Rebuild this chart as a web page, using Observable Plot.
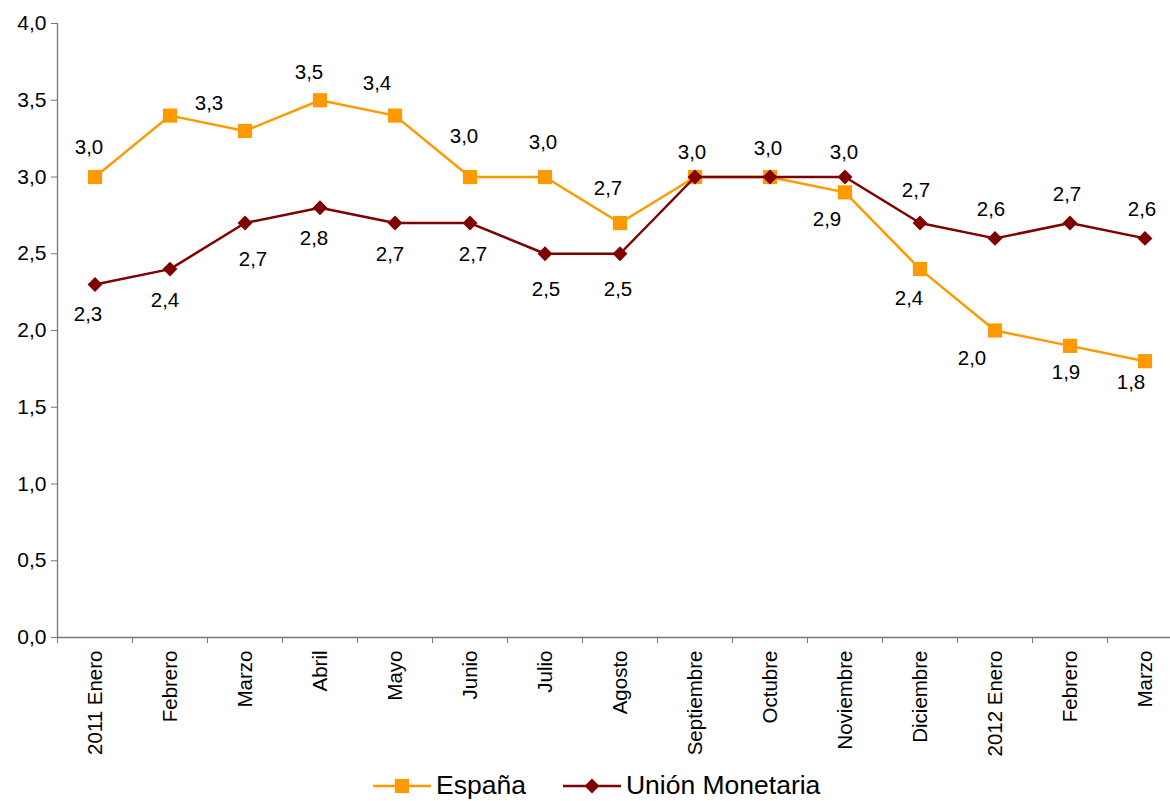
<!DOCTYPE html>
<html>
<head>
<meta charset="utf-8">
<script src="https://cdn.jsdelivr.net/npm/d3@7"></script>
<script src="https://cdn.jsdelivr.net/npm/@observablehq/plot@0.6"></script>
<style>
  html, body { margin: 0; padding: 0; background: #fff; overflow: hidden; }
  #wrap { position: relative; width: 1170px; height: 801px; font-family: "Liberation Sans", Arial, sans-serif; }
  #legend { position: absolute; left: 373px; top: 772px; height: 27px; display: flex; align-items: center; font-size: 26.5px; line-height: 27px; color: #000; }
  #legend .item { display: flex; align-items: center; height: 27px; }
  #legend svg { display: block; }
</style>
</head>
<body>
<div id="wrap"><div id="chart"></div><div id="legend"></div></div>
<script>
// ---- Data ----
const months = ["2011 Enero", "Febrero", "Marzo", "Abril", "Mayo", "Junio", "Julio", "Agosto",
  "Septiembre", "Octubre", "Noviembre", "Diciembre", "2012 Enero", "Febrero", "Marzo"];
const espana = [3.0, 3.4, 3.3, 3.5, 3.4, 3.0, 3.0, 2.7, 3.0, 3.0, 2.9, 2.4, 2.0, 1.9, 1.8];
const union  = [2.3, 2.4, 2.7, 2.8, 2.7, 2.7, 2.5, 2.5, 3.0, 3.0, 3.0, 2.7, 2.6, 2.7, 2.6];
const seriesNames = ["España", "Unión Monetaria"];
const yTicks = [0, 0.5, 1.0, 1.5, 2.0, 2.5, 3.0, 3.5, 4.0];

// ---- Label placement (pixel offsets from each point; null = no label) ----
const espLabelOffsets = [[-6,-30], null, [-36,-28], [-11,-28], [-18,-32], [-6,-41], [-2,-35], [-12,-35],
  null, null, [-18,27], [-11,29], [-23,28], [-4,27], [-14,21]];
const uniLabelOffsets = [[-7,30], [-5,31], [8,36], [-6,31], [-5,31], [3,31], [1,36], [-2,36],
  [-3,-25], [-2,-29], [-1,-25], [-4,-33], [-4,-29], [-3,-29], [-3,-29]];

const colors = ["#FF9900", "#800000"];
const fmt = v => v.toFixed(1).replace(".", ",");
const idx = d3.range(months.length);

const labelMarks = (values, offsets) => offsets.map((o, i) => o && Plot.text([i], {
  x: d => d, y: d => values[d], text: d => fmt(values[d]),
  dx: o[0], dy: o[1], fill: "black", fontSize: 20.5
})).filter(Boolean);

const chart = Plot.plot({
  width: 1170,
  height: 768,
  marginTop: 23,
  marginBottom: 131,
  marginLeft: 57,
  marginRight: 0,
  style: { fontFamily: "Liberation Sans, Arial, sans-serif", fontSize: "20px", color: "black", background: "white" },
  x: { type: "linear", domain: [-0.5, months.length - 0.5], range: [57, 1182] },
  y: { domain: [0, 4] },
  marks: [
    Plot.axisY({ ticks: yTicks, tickSize: 6, tickPadding: 5, tickFormat: fmt, stroke: "#777", fill: "black", label: null, fontSize: 21 }),
    Plot.axisX({ ticks: d3.range(-0.5, months.length, 1), tickSize: 6, tickFormat: () => "", stroke: "#777", label: null }),
    Plot.axisX({ ticks: idx, tickSize: 0, tickPadding: 13, tickRotate: -90, tickFormat: i => months[i], fill: "black", label: null, fontSize: 20.5 }),
    Plot.ruleX([-0.5], { y1: 0, y2: 4, stroke: "#777", strokeWidth: 1.3 }),
    Plot.ruleY([0], { x1: -0.5, x2: months.length - 0.5, stroke: "#777", strokeWidth: 1.3 }),
    Plot.line(idx, { x: d => d, y: d => espana[d], stroke: colors[0], strokeWidth: 2.5 }),
    Plot.dot(idx, { x: d => d, y: d => espana[d], symbol: "square", r: 8, fill: colors[0], stroke: "none" }),
    Plot.line(idx, { x: d => d, y: d => union[d], stroke: colors[1], strokeWidth: 2.5 }),
    Plot.dot(idx, { x: d => d, y: d => union[d], symbol: "diamond2", r: 6.7, fill: colors[1], stroke: "none" }),
    ...labelMarks(espana, espLabelOffsets),
    ...labelMarks(union, uniLabelOffsets)
  ]
});
document.getElementById("chart").appendChild(chart);

// ---- Legend ----
const legend = d3.select("#legend");
const symbols = [d3.symbolSquare, d3.symbolDiamond2];
const sizes = [200, 140];
seriesNames.forEach((name, k) => {
  const item = legend.append("div").attr("class", "item").style("margin-left", k ? "37px" : "0px");
  const svg = item.append("svg").attr("width", 60).attr("height", 26);
  svg.append("line").attr("x1", 0).attr("x2", 58).attr("y1", 13).attr("y2", 13)
    .attr("stroke", colors[k]).attr("stroke-width", 2.5);
  svg.append("path").attr("transform", "translate(29,13)")
    .attr("d", d3.symbol(symbols[k], sizes[k])()).attr("fill", colors[k]);
  item.append("span").style("margin-left", "3px").text(name);
});
</script>
</body>
</html>
